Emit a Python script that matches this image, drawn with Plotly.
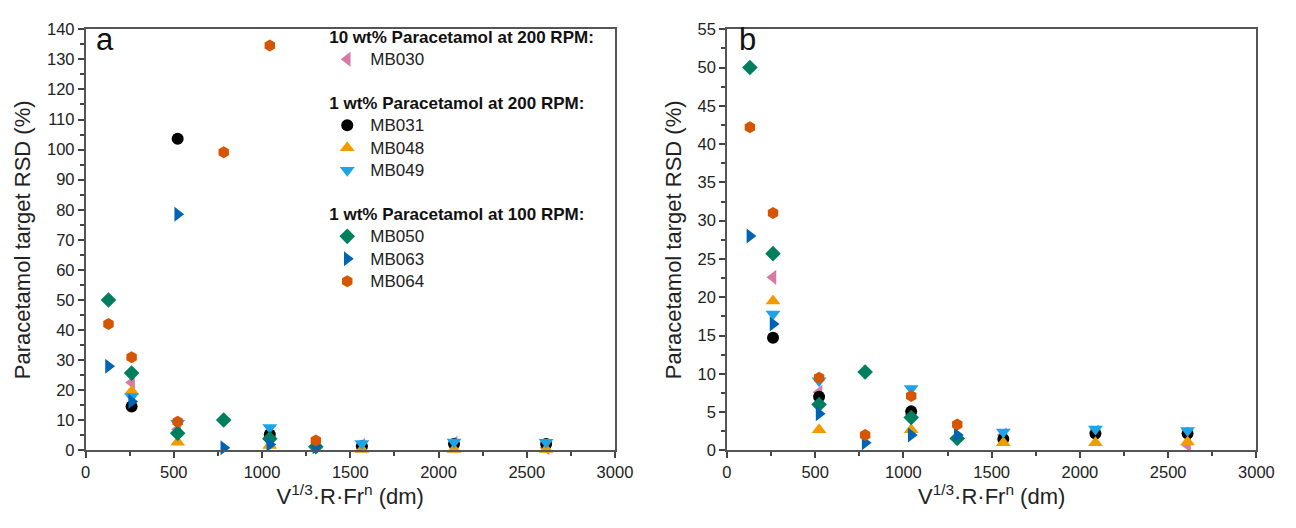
import plotly.graph_objects as go

# ---------------- data ----------------
x_200rpm = [261, 522, 1044, 1566, 2088, 2610]
x_100rpm = [130, 261, 522, 783, 1044, 1305]

series_names = ["MB030", "MB031", "MB048", "MB049", "MB050", "MB063", "MB064"]

# panel a
a_MB030 = [22.6, 7.0, 4.7, 1.7, 2.4, 0.9]
a_MB031 = [14.6, 103.6, 5.3, 1.4, 2.1, 2.1]
a_MB048 = [19.7, 2.7, 1.6, 0.3, 0.3, 0.3]
a_MB049 = [17.9, 9.0, 7.6, 2.3, 2.8, 2.7]
a_MB050 = [50.0, 25.7, 5.7, 10.1, 3.9, 1.2]
a_MB063 = [28.0, 16.3, 78.5, 0.9, 2.0, 1.2]
a_MB064 = [42.0, 31.0, 9.5, 99.1, 134.6, 3.3]

# panel b
b_MB030 = [22.6, 7.6, 4.7, 2.0, 2.4, 0.7]
b_MB031 = [14.7, 7.0, 5.1, 1.5, 2.2, 2.2]
b_MB048 = [19.5, 2.7, 2.7, 1.0, 1.0, 1.1]
b_MB049 = [17.8, 9.1, 8.1, 2.4, 2.8, 2.6]
b_MB050 = [50.0, 25.7, 6.0, 10.25, 4.3, 1.55]
b_MB063 = [28.0, 16.5, 4.8, 1.0, 2.0, 2.0]
b_MB064 = [42.2, 31.0, 9.5, 2.0, 7.1, 3.4]

group_titles = ["10 wt% Paracetamol at 200 RPM:",
                "1 wt% Paracetamol at 200 RPM:",
                "1 wt% Paracetamol at 100 RPM:"]

# ---------------- styles ----------------
style = {
    "MB030": dict(symbol="triangle-left", color="#D67BA5", group=0, x=x_200rpm),
    "MB031": dict(symbol="circle", color="#000000", group=1, x=x_200rpm),
    "MB048": dict(symbol="triangle-up", color="#F29B00", group=1, x=x_200rpm),
    "MB049": dict(symbol="triangle-down", color="#1BA4EA", group=1, x=x_200rpm),
    "MB050": dict(symbol="diamond", color="#007F5E", group=2, x=x_100rpm),
    "MB063": dict(symbol="triangle-right", color="#0064B4", group=2, x=x_100rpm),
    "MB064": dict(symbol="hexagon", color="#D55500", group=2, x=x_100rpm),
}
data_a = dict(MB030=a_MB030, MB031=a_MB031, MB048=a_MB048, MB049=a_MB049,
              MB050=a_MB050, MB063=a_MB063, MB064=a_MB064)
data_b = dict(MB030=b_MB030, MB031=b_MB031, MB048=b_MB048, MB049=b_MB049,
              MB050=b_MB050, MB063=b_MB063, MB064=b_MB064)

FONT = "Liberation Sans, Arial, sans-serif"
W, H = 1296, 528


def msize(sym):
    return 12 if sym in ("circle", "hexagon", "diamond") else 13


fig = go.Figure()

seen_groups = set()
for name in series_names:
    st = style[name]
    g = st["group"]
    kw = {}
    if g not in seen_groups:
        kw["legendgrouptitle"] = dict(
            text=f'<span style="font-size:17px">{group_titles[g]}</span>',
            font=dict(size=15, family=FONT, color="#111", weight="bold"))
        seen_groups.add(g)
    fig.add_trace(go.Scatter(
        x=st["x"], y=data_a[name], mode="markers",
        name=f'<span style="font-size:17px">{name}</span>',
        legendgroup=f"g{g}", xaxis="x", yaxis="y", cliponaxis=False,
        marker=dict(symbol=st["symbol"], color=st["color"], size=msize(st["symbol"]), line=dict(width=0)),
        **kw))
for name in series_names:
    st = style[name]
    fig.add_trace(go.Scatter(
        x=st["x"], y=data_b[name], mode="markers", name=name, showlegend=False,
        legendgroup=f"g{st['group']}", xaxis="x2", yaxis="y2", cliponaxis=False,
        marker=dict(symbol=st["symbol"], color=st["color"], size=msize(st["symbol"]), line=dict(width=0))))

axis_common = dict(
    showgrid=False, zeroline=False, showline=True, linecolor="#555", linewidth=1.5,
    mirror=True, ticks="outside", ticklen=6, tickwidth=1.5, tickcolor="#444",
    tickfont=dict(family=FONT, size=16.5, color="#222"),
)
minor_x = dict(dtick=250, ticks="outside", ticklen=4, tickcolor="#444", tickwidth=1.5)
xtitle = dict(text="V<sup>1/3</sup>·R·Fr<sup>n</sup> (dm)",
              font=dict(family=FONT, size=22, color="#222"), standoff=9)
ytitle = dict(text="Paracetamol target RSD (%)",
              font=dict(family=FONT, size=22, color="#222"), standoff=10)

fig.update_layout(
    width=W, height=H,
    margin=dict(l=0, r=0, t=0, b=0),
    paper_bgcolor="white", plot_bgcolor="white",
    font=dict(family=FONT, color="#222"),
    xaxis=dict(domain=[82/W, 621/W], range=[0, 3000], dtick=500, minor=minor_x,
               title=xtitle, anchor="y", **axis_common),
    yaxis=dict(domain=[1-457/H, 1-21/H], range=[0, 140], dtick=10,
               minor=dict(dtick=5, ticks="outside", ticklen=4, tickcolor="#444", tickwidth=1.5),
               title=ytitle, anchor="x", **axis_common),
    xaxis2=dict(domain=[735/W, 1274/W], range=[0, 3000], dtick=500, minor=minor_x,
                title=xtitle, anchor="y2", **axis_common),
    yaxis2=dict(domain=[1-457/H, 1-21/H], range=[0, 55], dtick=5,
                minor=dict(dtick=2.5, ticks="outside", ticklen=4, tickcolor="#444", tickwidth=1.5),
                title=ytitle, anchor="x2", **axis_common),
    legend=dict(x=325/W, y=1-12/H, xanchor="left", yanchor="top",
                bgcolor="rgba(0,0,0,0)", font=dict(family=FONT, size=15, color="#222"),
                tracegroupgap=21, traceorder="grouped", itemwidth=36),
    annotations=[
        dict(text="a", x=91/W, y=1-32/H, xref="paper", yref="paper", showarrow=False,
             xanchor="left", yanchor="middle", font=dict(family=FONT, size=31, color="#111")),
        dict(text="b", x=745/W, y=1-32/H, xref="paper", yref="paper", showarrow=False,
             xanchor="left", yanchor="middle", font=dict(family=FONT, size=31, color="#111")),
    ],
)

fig.write_html("out.html")
